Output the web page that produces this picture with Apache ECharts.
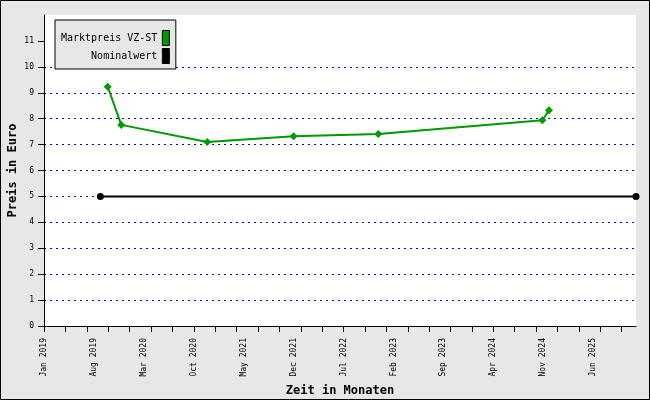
<!DOCTYPE html>
<html>
<head>
<meta charset="utf-8">
<script src="https://cdn.jsdelivr.net/npm/echarts@6/dist/echarts.min.js"></script>
<style>
  html, body { margin: 0; padding: 0; background: #e7e7e7; }
  #main { width: 650px; height: 400px; }
</style>
</head>
<body>
<div id="main"></div>
<script>
// Marktpreis VZ-ST
var marketDates = ["2019-09-29", "2019-11-26", "2020-11-28", "2021-12-01", "2022-11-27", "2024-10-28", "2024-11-25"];
var marketValues = [9.23, 7.76, 7.10, 7.32, 7.41, 7.94, 8.32];
// Nominalwert
var nominalDates = ["2019-08-29", "2025-12-01"];
var nominalValues = [5, 5];
// x axis labels
var xLabels = ["Jan 2019", "Aug 2019", "Mar 2020", "Oct 2020", "May 2021", "Dec 2021",
  "Jul 2022", "Feb 2023", "Sep 2023", "Apr 2024", "Nov 2024", "Jun 2025"];
var yLabels = [0, 1, 2, 3, 4, 5, 6, 7, 8, 9, 10, 11];

var monthNames = ["Jan", "Feb", "Mar", "Apr", "May", "Jun", "Jul", "Aug", "Sep", "Oct", "Nov", "Dec"];
var startYear = 2019;

// months since Jan 2019 (fractional)
function monthIndex(s) {
  var p = s.split("-").map(Number);
  var days = new Date(p[0], p[1], 0).getDate();
  return (p[0] - startYear) * 12 + (p[1] - 1) + (p[2] - 1) / days;
}
function labelIndex(s) {
  var p = s.split(" ");
  return (Number(p[1]) - startYear) * 12 + monthNames.indexOf(p[0]);
}
function labelText(v) {
  var m = Math.round(v);
  return monthNames[m % 12] + " " + (startYear + Math.floor(m / 12));
}

var xMax = monthIndex("2025-12-01");
var tickMonths = [];
for (var t = 0; t < xMax; t += 3) tickMonths.push(t);

var mono = "DejaVu Sans Mono";
var myChart = echarts.init(document.getElementById("main"));
myChart.setOption({
  animation: false,
  backgroundColor: "#e7e7e7",
  graphic: [{
    type: "rect",
    shape: { x: 0.5, y: 0.5, width: 649, height: 399 },
    style: { fill: null, stroke: "#000", lineWidth: 1 },
    silent: true
  }],
  grid: {
    left: 44, right: 14, top: 15, bottom: 74,
    containLabel: false,
    outerBoundsMode: "none",
    show: true, backgroundColor: "#fff", borderWidth: 0
  },
  legend: {
    left: 55, top: 20,
    orient: "vertical",
    align: "right",
    padding: [10, 6, 5, 6],
    itemGap: 2,
    itemWidth: 7,
    itemHeight: 15,
    backgroundColor: "#e7e7e7",
    borderColor: "#000",
    borderWidth: 1,
    borderRadius: 0,
    icon: "rect",
    itemStyle: { borderColor: "#000", borderWidth: 1 },
    textStyle: { fontFamily: mono, fontSize: 10, color: "#000", width: 98, align: "right" },
    data: ["Marktpreis VZ-ST", "Nominalwert"]
  },
  xAxis: {
    type: "value",
    min: 0,
    max: xMax,
    name: "Zeit in Monaten",
    nameLocation: "middle",
    nameGap: 58,
    nameTextStyle: { fontFamily: mono, fontSize: 12, fontWeight: "bold", color: "#000" },
    axisLine: { show: true, lineStyle: { color: "#000", width: 1 } },
    axisTick: { show: true, length: 6, customValues: tickMonths, lineStyle: { color: "#000" } },
    axisLabel: {
      rotate: 90,
      margin: 12,
      fontFamily: mono,
      fontSize: 8,
      color: "#000",
      customValues: xLabels.map(labelIndex),
      formatter: labelText
    },
    splitLine: { show: false }
  },
  yAxis: {
    type: "value",
    min: 0,
    max: 12,
    name: "Preis in Euro",
    nameLocation: "middle",
    nameGap: 25,
    nameMoveOverlap: false,
    nameRotate: 90,
    nameTextStyle: { fontFamily: mono, fontSize: 12, fontWeight: "bold", color: "#000" },
    axisLine: { show: true, lineStyle: { color: "#000", width: 1 } },
    axisTick: { show: true, length: 6, customValues: yLabels, lineStyle: { color: "#000" } },
    axisLabel: { margin: 10, fontFamily: mono, fontSize: 8, color: "#000", customValues: yLabels },
    splitLine: {
      show: true,
      showMinLine: false,
      showMaxLine: false,
      lineStyle: { color: "#0000cc", type: [2, 4], width: 1 }
    }
  },
  series: [
    {
      name: "Marktpreis VZ-ST",
      type: "line",
      color: "#009900",
      symbol: "diamond",
      symbolSize: 8,
      lineStyle: { width: 2, color: "#009900" },
      itemStyle: { color: "#009900" },
      data: marketDates.map(function (d, i) { return [monthIndex(d), marketValues[i]]; })
    },
    {
      name: "Nominalwert",
      type: "line",
      color: "#000",
      symbol: "circle",
      symbolSize: 7,
      lineStyle: { width: 2, color: "#000" },
      itemStyle: { color: "#000" },
      data: nominalDates.map(function (d, i) { return [monthIndex(d), nominalValues[i]]; })
    }
  ]
});
</script>
</body>
</html>
